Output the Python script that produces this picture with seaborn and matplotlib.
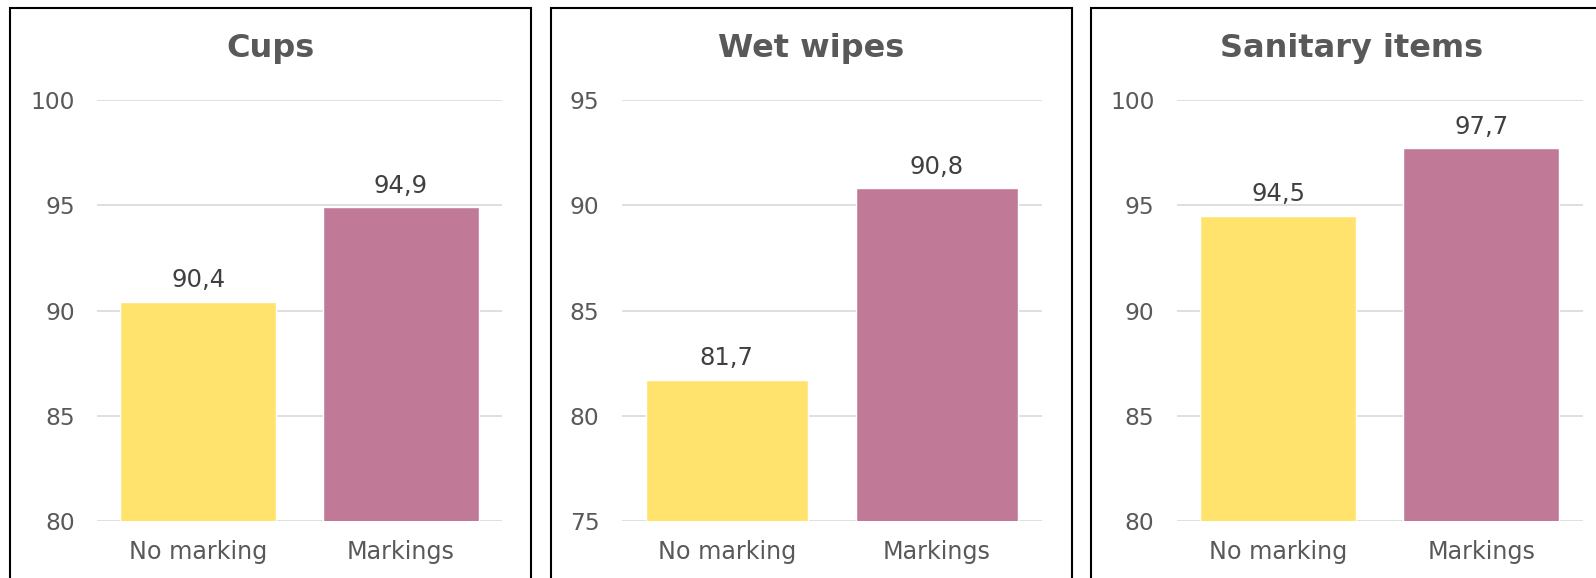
import pandas as pd
import matplotlib
matplotlib.use("Agg")
import matplotlib.pyplot as plt
import seaborn as sns
from matplotlib.patches import Rectangle

# data
groups = ["No marking", "Markings"]
titles = ["Cups", "Wet wipes", "Sanitary items"]
cups = [90.4, 94.9]
wet_wipes = [81.7, 90.8]
sanitary = [94.5, 97.7]
ylims = [(80, 100), (75, 95), (80, 100)]
colors = ["#FFE36D", "#C07A98"]

sns.set_style("white")
plt.rcParams["font.family"] = ["DejaVu Sans"]

W, H = 1596, 578
fig = plt.figure(figsize=(W / 100, H / 100), dpi=100)

# panel frames (left edge px), plot area (left, right px)
panels = [10, 551, 1091]
areas = [(97, 502), (621.7, 1041.7), (1176.7, 1582.7)]
top_px, bot_px = 100, 521

for i, vals in enumerate([cups, wet_wipes, sanitary]):
    df = pd.DataFrame({"group": groups, "value": vals})
    l, r = areas[i]
    ax = fig.add_axes([l / W, 1 - bot_px / H, (r - l) / W, (bot_px - top_px) / H])
    sns.barplot(data=df, x="group", y="value", hue="group", palette=colors,
                width=0.77, legend=False, ax=ax, saturation=1)
    lo, hi = ylims[i]
    ax.set_ylim(lo, hi)
    ax.set_yticks(range(lo, hi + 1, 5))
    ax.yaxis.grid(True, color="#D9D9D9", linewidth=1.2)
    ax.set_axisbelow(True)
    sns.despine(ax=ax, left=True, bottom=True)
    ax.set_xlabel("")
    ax.set_ylabel("")
    ax.tick_params(axis="y", length=0, pad=16, labelsize=16.8, labelcolor="#595959")
    ax.tick_params(axis="x", length=0, pad=13.5, labelsize=17.2, labelcolor="#595959")
    for c in ax.containers:
        ax.bar_label(c, labels=[f"{v:.1f}".replace(".", ",") for v in c.datavalues],
                     padding=7, fontsize=17.5, color="#404040")

    # frame and title
    px = panels[i]
    fig.patches.append(Rectangle((px / W, -0.2), 521 / W, 1.2 - 7.5 / H,
                                 transform=fig.transFigure, fill=False,
                                 edgecolor="black", linewidth=1.5))
    fig.text((px + 260.5) / W, 1 - 48 / H, titles[i], ha="center", va="center",
             fontsize=23, fontweight="bold", color="#595959")

fig.savefig("out.png", dpi=100)
